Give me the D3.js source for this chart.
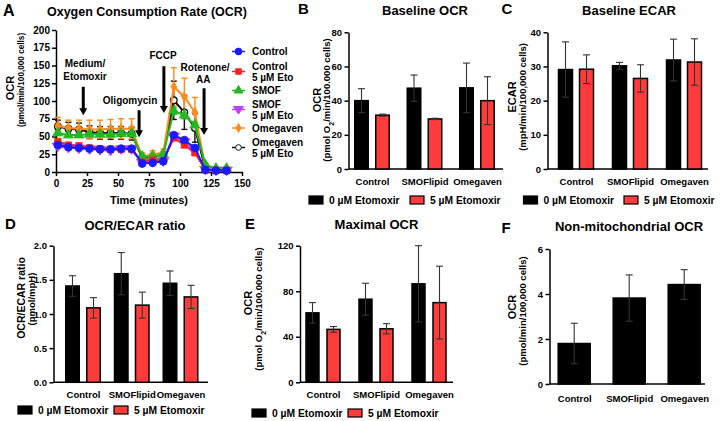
<!DOCTYPE html>
<html>
<head>
<meta charset="utf-8">
<script src="https://cdn.jsdelivr.net/npm/d3@7"></script>
<style>
  body { margin: 0; background: #fff; }
  svg text { font-family: "Liberation Sans", Arial, sans-serif; font-weight: bold; fill: #000; }
</style>
</head>
<body>
<svg id="fig" width="720" height="421"></svg>
<script>
// ---- Panel A: OCR time course ----
const timePoints = [1.5, 10, 18.5, 27, 35.5, 44, 52.5, 61, 69.5, 78, 86.5, 95, 103.5, 112, 120.5, 129, 137.5];
const timeTicks = [0, 25, 50, 75, 100, 125, 150];
const ocrTicks = [0, 25, 50, 75, 100, 125, 150, 175, 200];

const controlOCR    = [38, 35, 34, 33, 32, 32, 33, 33, 12, 13, 15, 52, 45, 34, 3, 2, 2];
const controlEtoOCR = [43, 38, 37, 34, 33, 32, 32, 32, 14, 17, 16, 48, 38, 27, 3, 2, 2];
const smofOCR       = [55, 52, 52, 53, 53, 53, 54, 54, 22, 22, 25, 86, 80, 66, 10, 5, 5];
const smofEtoOCR    = [36, 34, 33, 32, 31, 30, 32, 32, 13, 14, 15, 50, 42, 30, 3, 2, 2];
const omegOCR       = [65, 62, 61, 60, 60, 61, 61, 61, 22, 25, 27, 120, 106, 84, 5, 5, 5];
const omegEtoOCR    = [64, 61, 60, 56, 55, 55, 55, 54, 20, 22, 24, 101, 84, 62, 4, 3, 3];

const controlErr    = [2, 2, 2, 2, 2, 2, 2, 2, 2, 2, 2, 3, 3, 3, 1, 1, 1];
const controlEtoErr = [2, 2, 2, 2, 2, 2, 2, 2, 2, 2, 2, 3, 3, 3, 1, 1, 1];
const smofErr       = [3, 3, 3, 3, 3, 3, 3, 3, 3, 3, 3, 5, 5, 5, 2, 2, 2];
const smofEtoErr    = [2, 2, 2, 2, 2, 2, 2, 2, 2, 2, 2, 3, 3, 3, 1, 1, 1];
const omegErr       = [12, 11, 12, 13, 13, 13, 14, 14, 5, 5, 5, 27, 26, 21, 2, 2, 2];
const omegEtoErr    = [9, 9, 9, 9, 9, 9, 9, 9, 4, 4, 4, 27, 24, 20, 2, 2, 2];

const seriesNames = [['Control'], ['Control', '5 µM Eto'], ['SMOF'], ['SMOF', '5 µM Eto'], ['Omegaven'], ['Omegaven', '5 µM Eto']];

// ---- Bar panels B-F ----
const categories = ['Control', 'SMOFlipid', 'Omegaven'];
const legendLabels = ['0 µM Etomoxir', '5 µM Etomoxir'];

const baseOCR0 = [40, 47.3, 47.5],   baseOCR0Err = [7, 7.7, 14.5];
const baseOCR5 = [31.5, 29.3, 40],   baseOCR5Err = [0.6, 0.4, 14];
const baseECAR0 = [29.1, 30.2, 31.9], baseECAR0Err = [8.1, 1.0, 6.1];
const baseECAR5 = [29.2, 26.5, 31.3], baseECAR5Err = [4.2, 4.0, 6.8];
const ratio0 = [1.41, 1.59, 1.45],   ratio0Err = [0.15, 0.31, 0.18];
const ratio5 = [1.09, 1.13, 1.25],   ratio5Err = [0.15, 0.19, 0.17];
const maxOCR0 = [61, 73, 86.5],      maxOCR0Err = [9, 14, 33.5];
const maxOCR5 = [46.5, 47, 70],      maxOCR5Err = [2.5, 4.5, 32];
const nonMito = [1.8, 3.82, 4.42],   nonMitoErr = [0.9, 1.03, 0.66];

const svg = d3.select('#fig');
svg.append('rect').attr('width', 720).attr('height', 421).attr('fill', '#fff');

function styleAxis(sel, size) {
  sel.select('.domain').attr('stroke', '#000').attr('stroke-width', 1.5);
  sel.selectAll('.tick line').attr('stroke', '#000').attr('stroke-width', 1.5);
  sel.selectAll('text').style('font-size', size + 'px');
}

function addText(x, y, txt, size, anchor) {
  return svg.append('text').attr('x', x).attr('y', y)
    .attr('text-anchor', anchor || 'middle').style('font-size', size + 'px').text(txt);
}

function addYLabel(x, y, txt, size) {
  return svg.append('text')
    .attr('transform', `translate(${x},${y}) rotate(-90)`)
    .attr('text-anchor', 'middle').attr('dy', '0.35em')
    .style('font-size', size + 'px').text(txt);
}

// ================= Panel A =================
const xA = d3.scaleLinear().domain([0, 150]).range([56, 242]);
const yA = d3.scaleLinear().domain([0, 200]).range([172, 30]);

addText(3, 16, 'A', 16, 'start');
addText(147, 16, 'Oxygen Consumption Rate (OCR)', 12.5);

svg.append('g').attr('transform', 'translate(0,172)')
  .call(d3.axisBottom(xA).tickValues(timeTicks).tickSize(4).tickSizeOuter(0).tickPadding(4))
  .call(g => styleAxis(g, 10));
svg.append('g').attr('transform', 'translate(56,0)')
  .call(d3.axisLeft(yA).tickValues(ocrTicks).tickSize(4).tickSizeOuter(0).tickPadding(2))
  .call(g => styleAxis(g, 10));

addText(149, 204, 'Time (minutes)', 11);
addYLabel(10, 88, 'OCR', 11);
addYLabel(21, 80, '(pmol/min/100,000 cells)', 8.2);

const triDown = { draw(ctx, size) { const r = Math.sqrt(size / 1.3); ctx.moveTo(-r, -r * 0.6); ctx.lineTo(r, -r * 0.6); ctx.lineTo(0, r * 0.9); ctx.closePath(); } };
const seriesA = [
  { v: omegEtoOCR, e: omegEtoErr, color: '#111', sym: d3.symbolCircle, fill: '#fff', size: 34 },
  { v: omegOCR, e: omegErr, color: '#ff8c1a', sym: d3.symbolDiamond, fill: '#ff8c1a', size: 30 },
  { v: smofEtoOCR, e: smofEtoErr, color: '#c040ff', sym: triDown, fill: '#c040ff', size: 44 },
  { v: smofOCR, e: smofErr, color: '#22b822', sym: d3.symbolTriangle, fill: '#22b822', size: 44 },
  { v: controlEtoOCR, e: controlEtoErr, color: '#ff2020', sym: d3.symbolSquare, fill: '#ff2020', size: 40 },
  { v: controlOCR, e: controlErr, color: '#1a1aff', sym: d3.symbolCircle, fill: '#1a1aff', size: 48 }
];
const legendOrder = [5, 4, 3, 2, 1, 0];

// error bars
seriesA.forEach(s => {
  const g = svg.append('g').attr('stroke', s.color).attr('stroke-width', 1.4);
  timePoints.forEach((t, i) => {
    const x = xA(t), y1 = yA(s.v[i] + s.e[i]), y2 = yA(Math.max(0, s.v[i] - s.e[i]));
    g.append('line').attr('x1', x).attr('x2', x).attr('y1', y1).attr('y2', y2);
    g.append('line').attr('x1', x - 3).attr('x2', x + 3).attr('y1', y1).attr('y2', y1);
    g.append('line').attr('x1', x - 3).attr('x2', x + 3).attr('y1', y2).attr('y2', y2);
  });
});
// lines and points
const lineA = d3.line().x((d, i) => xA(timePoints[i])).y(d => yA(d));
seriesA.forEach(s => {
  svg.append('path').datum(s.v).attr('d', lineA).attr('fill', 'none')
    .attr('stroke', s.color).attr('stroke-width', 2);
  svg.append('g').selectAll('path').data(s.v).join('path')
    .attr('transform', (d, i) => `translate(${xA(timePoints[i])},${yA(d)})`)
    .attr('d', d3.symbol(s.sym, s.size))
    .attr('fill', s.fill).attr('stroke', s.color).attr('stroke-width', s.fill === '#fff' ? 1.3 : 0.8);
});

// injection arrows
const injections = [
  { t: 22, from: 120, to: 80, label: ['Medium/', 'Etomoxir'], lt: [23.4, 23.4], ly: [148, 129.5] },
  { t: 67, from: 87, to: 49, label: ['Oligomycin'], lt: [59.7], ly: [96] },
  { t: 87, from: 149, to: 83, label: ['FCCP'], lt: [86.3], ly: [159] },
  { t: 119.4, from: 118, to: 52, label: ['Rotenone/', 'AA'], lt: [120.2, 118.7], ly: [142.3, 125.4] }
];
injections.forEach(a => {
  const x = xA(a.t), yTop = yA(a.from), yTip = yA(a.to);
  svg.append('line').attr('x1', x).attr('x2', x).attr('y1', yTop).attr('y2', yTip - 6)
    .attr('stroke', '#000').attr('stroke-width', 3);
  svg.append('path').attr('d', `M${x - 4},${yTip - 7}L${x + 4},${yTip - 7}L${x},${yTip}Z`).attr('fill', '#000');
  a.label.forEach((l, i) => addText(xA(a.lt[i]), yA(a.ly[i]), l, 10));
});

// legend A
const legRows = [51.5, 71.5, 90.5, 109.5, 128, 147.5];
legendOrder.forEach((si, r) => {
  const s = seriesA[si], y = legRows[r];
  svg.append('line').attr('x1', 232).attr('x2', 245).attr('y1', y).attr('y2', y).attr('stroke', s.color).attr('stroke-width', 1.5);
  svg.append('path').attr('transform', `translate(238.5,${y})`).attr('d', d3.symbol(s.sym, s.size * 0.75))
    .attr('fill', s.fill).attr('stroke', s.color).attr('stroke-width', 1);
  const lines = seriesNames[r];
  if (lines.length === 1) addText(252, y + 3.5, lines[0], 10, 'start');
  else { addText(252, y - 2, lines[0], 10, 'start'); addText(252, y + 9, lines[1], 10, 'start'); }
});

// ================= Bar panels =================
function barPanel(p) {
  const y = d3.scaleLinear().domain([0, p.max]).range([p.bottom, p.top]);
  const x = d3.scalePoint().domain(categories).range([p.c0, p.c2]);

  addText(p.letter[1], p.letter[2], p.letter[0], 15, 'start');
  addText(p.title[1], p.title[2], p.title[0], 13);

  svg.append('g').attr('transform', `translate(${p.x0},0)`)
    .call(d3.axisLeft(y).tickValues(p.ticks).tickFormat(p.fmt || d3.format('d')).tickSize(4).tickSizeOuter(0).tickPadding(2.5))
    .call(g => styleAxis(g, 9.5));
  svg.append('line').attr('x1', p.x0).attr('x2', p.x1).attr('y1', p.bottom).attr('y2', p.bottom)
    .attr('stroke', '#000').attr('stroke-width', 1.5);
  svg.append('g').attr('transform', `translate(0,${p.bottom})`)
    .call(d3.axisBottom(x).tickSize(0).tickPadding(p.labPad || 9))
    .call(g => g.select('.domain').remove())
    .selectAll('text').style('font-size', '9.5px');

  p.series.forEach(s => {
    const g = svg.append('g');
    g.selectAll('rect').data(s.v).join('rect')
      .attr('x', (d, i) => x(categories[i]) + s.off - p.bw / 2)
      .attr('y', d => y(d))
      .attr('width', p.bw)
      .attr('height', d => p.bottom - y(d))
      .attr('fill', s.color).attr('stroke', '#000').attr('stroke-width', 1.5);
    const eb = g.append('g').attr('stroke', '#333').attr('stroke-width', 1.1);
    s.v.forEach((d, i) => {
      const cx = x(categories[i]) + s.off;
      const y1 = y(d + s.e[i]), y2 = y(d - s.e[i]);
      eb.append('line').attr('x1', cx).attr('x2', cx).attr('y1', y1).attr('y2', y2);
      eb.append('line').attr('x1', cx - 3.5).attr('x2', cx + 3.5).attr('y1', y1).attr('y2', y1);
      eb.append('line').attr('x1', cx - 3.5).attr('x2', cx + 3.5).attr('y1', y2).attr('y2', y2);
    });
  });

  // y label
  addYLabel(p.ylab1[1], p.ylab1[2], p.ylab1[0], p.ylab1[3] || 11);
  const t2 = svg.append('text')
    .attr('transform', `translate(${p.ylab2[1]},${p.ylab2[2]}) rotate(-90)`)
    .attr('text-anchor', 'middle').attr('dy', '0.35em').style('font-size', (p.ylab2[3] || 9.5) + 'px');
  if (p.ylab2.sub) {
    t2.append('tspan').text('(pmol O');
    t2.append('tspan').attr('baseline-shift', 'sub').style('font-size', '7px').text('2');
    t2.append('tspan').text(p.ylab2[0]);
  } else t2.text(p.ylab2[0]);

  if (p.legend) {
    const ly = p.legend[0];
    [[p.legend[1], '#000'], [p.legend[2], '#ff3b3b']].forEach((l, i) => {
      svg.append('rect').attr('x', l[0]).attr('y', ly - 4).attr('width', 14).attr('height', 8)
        .attr('fill', l[1]).attr('stroke', '#000').attr('stroke-width', 1.2);
      addText(l[0] + 20, ly + 4, legendLabels[i], 10.3, 'start');
    });
  }
}

const red = '#ff3b3b';
barPanel({
  letter: ['B', 298, 14], title: ['Baseline OCR', 425, 15],
  x0: 348.5, x1: 503, c0: 372, c2: 477, top: 32.3, bottom: 169, max: 80, ticks: [0, 20, 40, 60, 80], bw: 13.5,
  series: [{ v: baseOCR0, e: baseOCR0Err, color: '#000', off: -10.5 }, { v: baseOCR5, e: baseOCR5Err, color: red, off: 10.5 }],
  ylab1: ['OCR', 317, 100], ylab2: Object.assign(['/min/100.000 cells)', 327, 100], { sub: true }),
  legend: [200, 309, 410]
});
barPanel({
  letter: ['C', 501.5, 14], title: ['Baseline ECAR', 629, 15],
  x0: 547.5, x1: 708, c0: 576, c2: 684, top: 32.3, bottom: 169, max: 40, ticks: [0, 10, 20, 30, 40], bw: 14,
  series: [{ v: baseECAR0, e: baseECAR0Err, color: '#000', off: -10.5 }, { v: baseECAR5, e: baseECAR5Err, color: red, off: 10.5 }],
  ylab1: ['ECAR', 512.5, 97], ylab2: ['(mpH/min/100,000 cells)', 522.5, 97],
  legend: [200, 523.5, 624]
});
barPanel({
  letter: ['D', 5, 228.5], title: ['OCR/ECAR ratio', 135, 229.5],
  x0: 53.5, x1: 208, c0: 83, c2: 180.5, top: 245.7, bottom: 382.3, max: 2, ticks: [0, 0.5, 1, 1.5, 2], fmt: d3.format('.1f'), bw: 13.5,
  series: [{ v: ratio0, e: ratio0Err, color: '#000', off: -10.5 }, { v: ratio5, e: ratio5Err, color: red, off: 10.5 }],
  ylab1: ['OCR/ECAR ratio', 21, 298, 10.5], ylab2: ['(pmol/mpH)', 31.5, 299, 9.5],
  legend: [410, 18, 114]
});
barPanel({
  letter: ['E', 245, 228.5], title: ['Maximal OCR', 376.5, 228.5],
  x0: 300, x1: 453, c0: 323, c2: 429, top: 245.7, bottom: 382.3, max: 120, ticks: [0, 40, 80, 120], bw: 13,
  series: [{ v: maxOCR0, e: maxOCR0Err, color: '#000', off: -10.5 }, { v: maxOCR5, e: maxOCR5Err, color: red, off: 10.5 }],
  ylab1: ['OCR', 248, 303], ylab2: Object.assign(['/min/100.000 cells)', 259, 309], { sub: true }),
  legend: [413, 252, 348]
});
barPanel({
  letter: ['F', 501.5, 233], title: ['Non-mitochondrial OCR', 629, 230.5],
  x0: 549.5, x1: 705, c0: 574.2, c2: 684.2, top: 249, bottom: 384, max: 6, ticks: [0, 2, 4, 6], bw: 32, labPad: 11,
  series: [{ v: nonMito, e: nonMitoErr, color: '#000', off: 0 }],
  ylab1: ['OCR', 512, 307], ylab2: ['(pmol/min/100,000 cells)', 523, 311]
});
</script>
</body>
</html>
